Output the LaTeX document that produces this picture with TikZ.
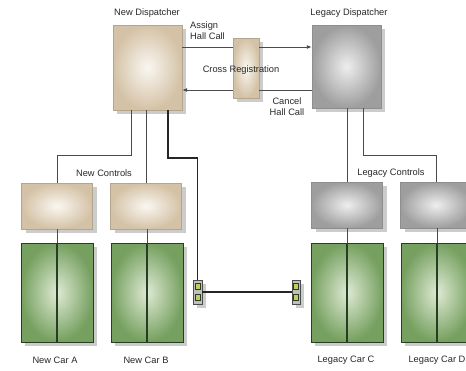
\documentclass[tikz,border=0pt]{standalone}
\usepackage{fontspec}
\setmainfont{Liberation Sans}
\usetikzlibrary{arrows.meta,shadows}
\definecolor{tanedge}{RGB}{212,194,166}
\definecolor{tanmid}{RGB}{250,247,241}
\definecolor{greyedge}{RGB}{158,158,158}
\definecolor{greymid}{RGB}{238,238,238}
\definecolor{caredge}{RGB}{118,160,96}
\definecolor{carmid}{RGB}{222,234,212}
\definecolor{carline}{RGB}{40,62,36}
\definecolor{wirecol}{RGB}{75,75,75}
\definecolor{pinfill}{RGB}{196,204,96}
\definecolor{textcol}{RGB}{40,40,40}

\begin{document}
\begin{tikzpicture}[x=1pt,y=-1pt,
font=\fontsize{9.3}{11}\selectfont,text=textcol,
shade/.style={drop shadow={opacity=0.4,shadow xshift=4pt,shadow yshift=-4pt}},
newbox/.style={rectangle,inner sep=0pt,draw=tanedge!85!black,inner color=tanmid,outer color=tanedge,shade},
oldbox/.style={rectangle,inner sep=0pt,draw=greyedge!90!black,inner color=greymid,outer color=greyedge,shade},
ctlbox/.style={minimum width=71pt,minimum height=46pt},
carbox/.style={rectangle,inner sep=0pt,draw=carline,line width=1pt,inner color=carmid,outer color=caredge,minimum width=72pt,minimum height=99pt,shade},
plug/.style={rectangle,inner sep=0pt,draw=black!70,fill=black!25,minimum width=9pt,minimum height=24pt,shade},
pin/.style={rectangle,inner sep=0pt,draw=carline,line width=1pt,fill=pinfill,minimum width=5pt,minimum height=6pt},
wire/.style={wirecol,line width=0.9pt},
bus/.style={black!85,line width=1.8pt},
arc/.style={wire,-{Latex[length=5pt,width=4pt]}}]
\useasboundingbox (0,0) rectangle (466,370);
\clip (0,0) rectangle (466,370);
% dispatchers
\node[newbox,minimum width=69pt,minimum height=85pt] (ndisp) at (147.5,67.5) {};
\node[oldbox,minimum width=69pt,minimum height=83pt] (ldisp) at (346.5,66.5) {};
\node[newbox,minimum width=26pt,minimum height=60pt] (xreg) at (246,68) {};
\node (ndispl) at (147,13) {New Dispatcher};
\node (ldispl) at (349,13) {Legacy Dispatcher};
\draw[wire] ([yshift=20.5pt]ndisp.east) -- ([yshift=21pt]xreg.west);
\draw[arc] ([yshift=21pt]xreg.east) -- ([yshift=19.5pt]ldisp.west);
\draw[wire] ([yshift=-23.5pt]ldisp.west) -- ([yshift=-22pt]xreg.east);
\draw[arc] ([yshift=-22pt]xreg.west) -- ([yshift=-22.5pt]ndisp.east);
\node[align=left,anchor=west,inner sep=0pt] (assign) at (190,31) {Assign\\Hall Call};
\node (xregl) at (241,70) {Cross Registration};
\node[align=center,inner sep=0pt] (cancel) at (287,107) {Cancel\\Hall Call};
% controls
\node[newbox,ctlbox] (nctlA) at (57,206) {};
\node[newbox,ctlbox] (nctlB) at (146,206) {};
\node[oldbox,ctlbox] (lctlC) at (347,205) {};
\node[oldbox,ctlbox] (lctlD) at (436,205) {};
\node (nctll) at (104,173) {New Controls};
\node (lctll) at (391,173) {Legacy Controls};
\draw[wire] ([xshift=-16.5pt]ndisp.south) -- ++(0,45) -| (nctlA.north);
\draw[wire] (ndisp.south -| nctlB.north) -- (nctlB.north);
\draw[wire] (ldisp.south -| lctlC.north) -- (lctlC.north);
\draw[wire] ([xshift=16.5pt]ldisp.south) -- ++(0,47) -| (lctlD.north);
% cars
\node[carbox] (carA) at (57,292.5) {};
\node[carbox] (carB) at (147,292.5) {};
\node[carbox] (carC) at (347,292.5) {};
\node[carbox] (carD) at (437,292.5) {};
\foreach \c/\k in {carA/nctlA,carB/nctlB,carC/lctlC,carD/lctlD}{
  \draw[wire] (\k.south -| \c.north) -- (\c.north);
  \draw[carline,line width=1.3pt] (\c.north) -- (\c.south);
}
\node (carAl) at (55,360) {New Car A};
\node (carBl) at (146,360) {New Car B};
\node (carCl) at (346,360) {Legacy Car C};
\node (carDl) at (437,360) {Legacy Car D};
% car links
\node[plug] (plugL) at (197.5,292) {};
\node[plug,minimum width=8pt] (plugR) at (296,292) {};
\foreach \p in {plugL,plugR}{
  \node[pin] (\p a) at ([yshift=5.5pt]\p.center) {};
  \node[pin] (\p b) at ([yshift=-5.5pt]\p.center) {};
}
\draw[bus] ([xshift=20.5pt]ndisp.south) -- ++(0,48) -| (plugL.north);
\draw[bus] (plugL.east) -- (plugR.west);
\end{tikzpicture}
\end{document}
